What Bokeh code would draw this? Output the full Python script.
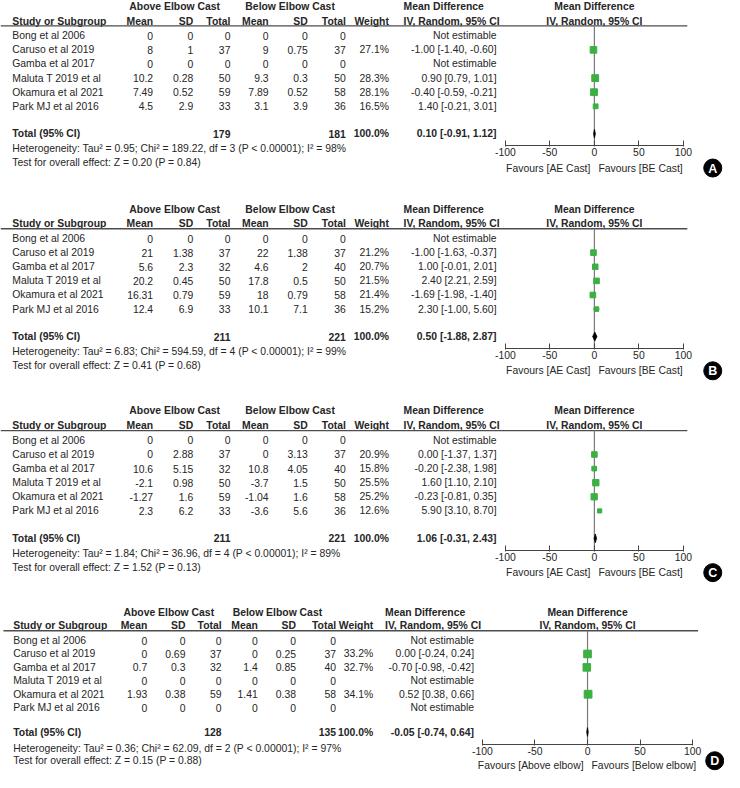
from bokeh.plotting import figure
from bokeh.models import Range1d, LinearAxis, FixedTicker
from bokeh.core.properties import value
from bokeh.embed import file_html
from bokeh.resources import INLINE

# ---------------- data ----------------
studies = ["Bong et al 2006", "Caruso et al 2019", "Gamba et al 2017",
           "Maluta T 2019 et al", "Okamura et al 2021", "Park MJ et al 2016"]

tick_vals = [-100, -50, 0, 50, 100]
tick_labels = ["-100", "-50", "0", "50", "100"]

# Panel A
ae_mean_a = [0, 8, 0, 10.2, 7.49, 4.5]
ae_sd_a = [0, 1, 0, 0.28, 0.52, 2.9]
ae_n_a = [0, 37, 0, 50, 59, 33]
be_mean_a = [0, 9, 0, 9.3, 7.89, 3.1]
be_sd_a = [0, 0.75, 0, 0.3, 0.52, 3.9]
be_n_a = [0, 37, 0, 50, 58, 36]
weight_a = [None, 27.1, None, 28.3, 28.1, 16.5]
md_a = [None, -1.00, None, 0.90, -0.40, 1.40]
lo_a = [None, -1.40, None, 0.79, -0.59, -0.21]
hi_a = [None, -0.60, None, 1.01, -0.21, 3.01]
total_a = [179, 181, 0.10, -0.91, 1.12]
het_a = "Heterogeneity: Tau\u00b2 = 0.95; Chi\u00b2 = 189.22, df = 3 (P < 0.00001); I\u00b2 = 98%"
test_a = "Test for overall effect: Z = 0.20 (P = 0.84)"
fav_a = ["Favours [AE Cast]", "Favours [BE Cast]"]

# Panel B
ae_mean_b = [0, 21, 5.6, 20.2, 16.31, 12.4]
ae_sd_b = [0, 1.38, 2.3, 0.45, 0.79, 6.9]
ae_n_b = [0, 37, 32, 50, 59, 33]
be_mean_b = [0, 22, 4.6, 17.8, 18, 10.1]
be_sd_b = [0, 1.38, 2, 0.5, 0.79, 7.1]
be_n_b = [0, 37, 40, 50, 58, 36]
weight_b = [None, 21.2, 20.7, 21.5, 21.4, 15.2]
md_b = [None, -1.00, 1.00, 2.40, -1.69, 2.30]
lo_b = [None, -1.63, -0.01, 2.21, -1.98, -1.00]
hi_b = [None, -0.37, 2.01, 2.59, -1.40, 5.60]
total_b = [211, 221, 0.50, -1.88, 2.87]
het_b = "Heterogeneity: Tau\u00b2 = 6.83; Chi\u00b2 = 594.59, df = 4 (P < 0.00001); I\u00b2 = 99%"
test_b = "Test for overall effect: Z = 0.41 (P = 0.68)"
fav_b = ["Favours [AE Cast]", "Favours [BE Cast]"]

# Panel C
ae_mean_c = [0, 0, 10.6, -2.1, -1.27, 2.3]
ae_sd_c = [0, 2.88, 5.15, 0.98, 1.6, 6.2]
ae_n_c = [0, 37, 32, 50, 59, 33]
be_mean_c = [0, 0, 10.8, -3.7, -1.04, -3.6]
be_sd_c = [0, 3.13, 4.05, 1.5, 1.6, 5.6]
be_n_c = [0, 37, 40, 50, 58, 36]
weight_c = [None, 20.9, 15.8, 25.5, 25.2, 12.6]
md_c = [None, 0.00, -0.20, 1.60, -0.23, 5.90]
lo_c = [None, -1.37, -2.38, 1.10, -0.81, 3.10]
hi_c = [None, 1.37, 1.98, 2.10, 0.35, 8.70]
total_c = [211, 221, 1.06, -0.31, 2.43]
het_c = "Heterogeneity: Tau\u00b2 = 1.84; Chi\u00b2 = 36.96, df = 4 (P < 0.00001); I\u00b2 = 89%"
test_c = "Test for overall effect: Z = 1.52 (P = 0.13)"
fav_c = ["Favours [AE Cast]", "Favours [BE Cast]"]

# Panel D
ae_mean_d = [0, 0, 0.7, 0, 1.93, 0]
ae_sd_d = [0, 0.69, 0.3, 0, 0.38, 0]
ae_n_d = [0, 37, 32, 0, 59, 0]
be_mean_d = [0, 0, 1.4, 0, 1.41, 0]
be_sd_d = [0, 0.25, 0.85, 0, 0.38, 0]
be_n_d = [0, 37, 40, 0, 58, 0]
weight_d = [None, 33.2, 32.7, None, 34.1, None]
md_d = [None, 0.00, -0.70, None, 0.52, None]
lo_d = [None, -0.24, -0.98, None, 0.38, None]
hi_d = [None, 0.24, -0.42, None, 0.66, None]
total_d = [128, 135, -0.05, -0.74, 0.64]
het_d = "Heterogeneity: Tau\u00b2 = 0.36; Chi\u00b2 = 62.09, df = 2 (P < 0.00001); I\u00b2 = 97%"
test_d = "Test for overall effect: Z = 0.15 (P = 0.88)"
fav_d = ["Favours [Above elbow]", "Favours [Below elbow]"]

# ---------------- layout ----------------
FONT = "Liberation Sans"
FS = "10.4px"
TXT = "#262626"
GREEN = "#3cb043"

cols_abc = dict(study=12, ae_mean=156, ae_sd=197, ae_n=235, be_mean=274, be_sd=314,
                be_n=353, weight=397, md_text=507, md_head=412, g_ae=178, g_be=296,
                zero=607, xm100=516, x100=698, line0=0, line1=702, letter=728)
rows_abc = dict(group=6, head=21, line=26, row0=36, row_h=14.4, total=136, het=151.5,
                test=165.7, axis=148, fav=171, letter=171)
cols_d = dict(study=13, ae_mean=150, ae_sd=189, ae_n=226, be_mean=263, be_sd=302,
              be_n=343, weight=381, md_text=484, md_head=393, g_ae=172, g_be=283,
              zero=600, xm100=493, x100=708, line0=3, line1=713, letter=730)
rows_d = dict(group=6.3, head=20.3, line=25.3, row0=35.3, row_h=13.7, total=128.7,
              het=146, test=158, axis=141.3, fav=163, letter=158)

panels = [
    dict(key="A", top=0, C=cols_abc, R=rows_abc, ae_mean=ae_mean_a, ae_sd=ae_sd_a, ae_n=ae_n_a,
         be_mean=be_mean_a, be_sd=be_sd_a, be_n=be_n_a, w=weight_a, md=md_a, lo=lo_a, hi=hi_a,
         total=total_a, het=het_a, test=test_a, fav=fav_a),
    dict(key="B", top=207, C=cols_abc, R=rows_abc, ae_mean=ae_mean_b, ae_sd=ae_sd_b, ae_n=ae_n_b,
         be_mean=be_mean_b, be_sd=be_sd_b, be_n=be_n_b, w=weight_b, md=md_b, lo=lo_b, hi=hi_b,
         total=total_b, het=het_b, test=test_b, fav=fav_b),
    dict(key="C", top=413, C=cols_abc, R=rows_abc, ae_mean=ae_mean_c, ae_sd=ae_sd_c, ae_n=ae_n_c,
         be_mean=be_mean_c, be_sd=be_sd_c, be_n=be_n_c, w=weight_c, md=md_c, lo=lo_c, hi=hi_c,
         total=total_c, het=het_c, test=test_c, fav=fav_c),
    dict(key="D", top=618, C=cols_d, R=rows_d, ae_mean=ae_mean_d, ae_sd=ae_sd_d, ae_n=ae_n_d,
         be_mean=be_mean_d, be_sd=be_sd_d, be_n=be_n_d, w=weight_d, md=md_d, lo=lo_d, hi=hi_d,
         total=total_d, het=het_d, test=test_d, fav=fav_d),
]

p = figure(width=724, height=772, x_range=Range1d(0, 740), y_range=Range1d(788, 0),
           output_backend="svg", toolbar_location=None, x_axis_type=None, y_axis_type=None,
           min_border=0, outline_line_color=None)
p.background_fill_color = "white"
p.border_fill_color = "white"


def txt(xs, ys, texts, align="left", bold=False, color=TXT, size=FS, rng="default"):
    p.text(x=xs, y=ys, text=texts, text_align=align, text_baseline="middle",
           text_font=value(FONT), text_font_size=size,
           text_font_style="bold" if bold else "normal", text_color=color,
           x_range_name=rng)


def num(v):
    return "{:g}".format(v)


for P in panels:
    C, R, t = P["C"], P["R"], P["top"]
    name = "md" + P["key"]
    u = (C["x100"] - C["xm100"]) / 200.0
    p.extra_x_ranges[name] = Range1d((0 - C["zero"]) / u, (740 - C["zero"]) / u)

    ys = [t + R["row0"] + i * R["row_h"] for i in range(len(studies))]

    # group headers
    txt([C["g_ae"], C["g_be"]], [t + R["group"]] * 2, ["Above Elbow Cast", "Below Elbow Cast"],
        "center", True)
    txt([C["md_head"]], [t + R["group"]], ["Mean Difference"], "left", True)
    txt([C["md_head"]], [t + R["head"]], ["IV, Random, 95% CI"], "left", True)
    txt([0], [t + R["group"]], ["Mean Difference"], "center", True, rng=name)
    txt([0], [t + R["head"]], ["IV, Random, 95% CI"], "center", True, rng=name)
    txt([C["study"]], [t + R["head"]], ["Study or Subgroup"], "left", True)
    hx = [C["ae_mean"], C["ae_sd"], C["ae_n"], C["be_mean"], C["be_sd"], C["be_n"], C["weight"]]
    txt(hx, [t + R["head"]] * len(hx), ["Mean", "SD", "Total", "Mean", "SD", "Total", "Weight"],
        "right", True)
    p.segment(x0=[C["line0"]], x1=[C["line1"]], y0=[t + R["line"]], y1=[t + R["line"]],
              line_color="#4d4d4d", line_width=1.3)

    # study rows
    txt([C["study"]] * len(ys), ys, studies, "left")
    for col, key in (("ae_mean", "ae_mean"), ("ae_sd", "ae_sd"), ("be_mean", "be_mean"),
                     ("be_sd", "be_sd")):
        txt([C[col]] * len(ys), ys, [num(v) for v in P[key]], "right")
    txt([C["ae_n"]] * len(ys), ys, [str(v) for v in P["ae_n"]], "right")
    txt([C["be_n"]] * len(ys), ys, [str(v) for v in P["be_n"]], "right")
    wy = [y for y, w in zip(ys, P["w"]) if w is not None]
    txt([C["weight"]] * len(wy), wy, ["%.1f%%" % w for w in P["w"] if w is not None], "right")
    mdt = []
    for m, lo, hi in zip(P["md"], P["lo"], P["hi"]):
        mdt.append("Not estimable" if m is None else "%.2f [%.2f, %.2f]" % (m, lo, hi))
    txt([C["md_text"]] * len(ys), ys, mdt, "right")

    # total row
    tot = P["total"]
    ty = t + R["total"]
    txt([C["study"]], [ty], ["Total (95% CI)"], "left", True)
    txt([C["ae_n"], C["be_n"], C["weight"]], [ty] * 3, [str(tot[0]), str(tot[1]), "100.0%"],
        "right", True)
    txt([C["md_text"]], [ty], ["%.2f [%.2f, %.2f]" % (tot[2], tot[3], tot[4])], "right", True)
    txt([C["study"]], [t + R["het"]], [P["het"]], "left")
    txt([C["study"]], [t + R["test"]], [P["test"]], "left")

    # forest plot
    p.segment(x0=[0], x1=[0], y0=[t + R["line"]], y1=[t + R["axis"]], line_color="#7a7a7a",
              line_width=1.2, x_range_name=name)
    idx = [i for i, m in enumerate(P["md"]) if m is not None]
    p.segment(x0=[P["lo"][i] for i in idx], x1=[P["hi"][i] for i in idx],
              y0=[ys[i] for i in idx], y1=[ys[i] for i in idx], line_color="#555555",
              line_width=1, x_range_name=name)
    p.scatter(x=[P["md"][i] for i in idx], y=[ys[i] for i in idx], marker="square",
              size=[2 + 0.17 * P["w"][i] for i in idx], fill_color=GREEN, line_color=GREEN,
              x_range_name=name)
    p.patch(x=[tot[3], tot[2], tot[4], tot[2]], y=[ty, ty - 4.5, ty, ty + 4.5],
            fill_color="black", line_color="black", line_width=0.8, x_range_name=name)

    ax = LinearAxis(x_range_name=name, fixed_location=t + R["axis"], bounds=(-100, 100),
                    ticker=FixedTicker(ticks=tick_vals),
                    major_label_overrides={v: s for v, s in zip(tick_vals, tick_labels)})
    ax.axis_line_color = "#444444"
    ax.major_tick_line_color = "#444444"
    ax.major_tick_in = 5
    ax.major_tick_out = 1
    ax.minor_tick_line_color = None
    ax.major_label_text_font = FONT
    ax.major_label_text_font_size = FS
    ax.major_label_text_color = TXT
    ax.major_label_standoff = 2
    p.add_layout(ax, "below")

    fy = t + R["fav"]
    p.text(x=[0], y=[fy], text=[P["fav"][0]], x_offset=-4, text_align="right",
           text_baseline="middle", text_font=value(FONT), text_font_size=FS, text_color=TXT,
           x_range_name=name)
    p.text(x=[0], y=[fy], text=[P["fav"][1]], x_offset=4, text_align="left",
           text_baseline="middle", text_font=value(FONT), text_font_size=FS, text_color=TXT,
           x_range_name=name)

    # panel letter
    p.scatter(x=[C["letter"]], y=[t + R["letter"]], marker="circle", size=18,
              fill_color="black", line_color="black")
    txt([C["letter"]], [t + R["letter"] + 0.5], [P["key"]], "center", True, color="white",
        size="12.5px")

open("out.html", "w").write(file_html(p, INLINE))
